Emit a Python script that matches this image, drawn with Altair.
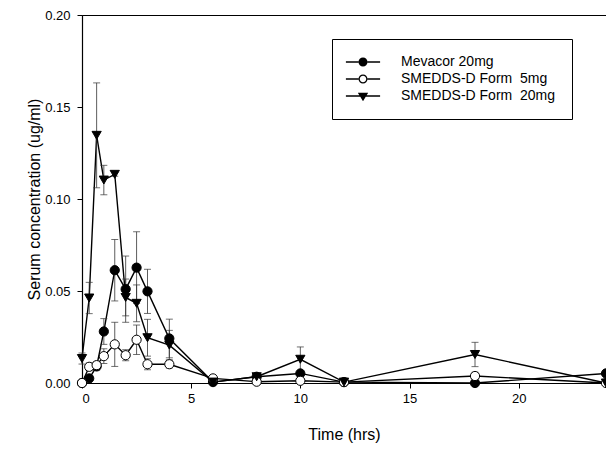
import altair as alt
import pandas as pd

# ---- data ----
times = [0, 0.33, 0.67, 1, 1.5, 2, 2.5, 3, 4, 6, 8, 10, 12, 18, 24]

series_names = ["Mevacor 20mg", "SMEDDS-D Form\u00a0 5mg", "SMEDDS-D Form\u00a0 20mg"]

mevacor = [0.000, 0.0025, 0.009, 0.028, 0.0613, 0.051, 0.0627, 0.0498, 0.0242,
           0.0005, 0.0034, 0.0052, 0.0005, 0.000, 0.0052]
mevacor_err = [0, 0.001, 0.002, 0.007, 0.0167, 0.018, 0.0195, 0.012, 0.0105,
               0, 0, 0, 0, 0, 0]

smedds5 = [0.000, 0.0088, 0.0097, 0.0146, 0.021, 0.0151, 0.0235, 0.0102, 0.0102,
           0.0025, 0.0007, 0.0012, 0.0005, 0.0038, 0.000]
smedds5_err = [0, 0.002, 0.002, 0.004, 0.012, 0.003, 0.008, 0.003, 0.002,
               0, 0, 0, 0, 0.002, 0]

smedds20 = [0.0133, 0.0462, 0.1346, 0.1103, 0.1134, 0.0465, 0.0433, 0.0246, 0.0206,
            0.0005, 0.0034, 0.0129, 0.0005, 0.0155, 0.000]
smedds20_err = [0.003, 0.0085, 0.0285, 0.008, 0.001, 0.010, 0.010, 0.010, 0.008,
                0, 0, 0.0067, 0, 0.0066, 0]

x_ticks = [0, 5, 10, 15, 20]
y_ticks = [0.00, 0.05, 0.10, 0.15, 0.20]

rows = []
for name, vals, errs in zip(series_names,
                            [mevacor, smedds5, smedds20],
                            [mevacor_err, smedds5_err, smedds20_err]):
    for t, v, e in zip(times, vals, errs):
        rows.append({"time": t, "value": v, "err": e, "series": name,
                     "lo": v - e, "hi": v + e})
df = pd.DataFrame(rows)

FONT = "Liberation Sans"

x_enc = alt.X("time:Q",
              scale=alt.Scale(domain=[0, 24], nice=False, zero=False),
              axis=alt.Axis(values=x_ticks, title="Time (hrs)", format="d"))
y_scale = alt.Scale(domain=[0, 0.2], nice=False)
y_axis = alt.Axis(values=y_ticks, format=".2f", title="Serum concentration (ug/ml)")

base = alt.Chart(df)

lines = base.mark_line(color="black", strokeWidth=1.4).encode(
    x=x_enc,
    y=alt.Y("value:Q", scale=y_scale, axis=y_axis),
    detail="series:N",
)

has_err = alt.datum.err > 0
err_rules = base.transform_filter(has_err).mark_rule(
    color="#333333", strokeWidth=0.8).encode(x="time:Q", y="lo:Q", y2="hi:Q")
err_caps_hi = base.transform_filter(has_err).mark_tick(
    orient="horizontal", size=7, thickness=1, color="#333333").encode(
    x="time:Q", y="hi:Q")
err_caps_lo = base.transform_filter(has_err).mark_tick(
    orient="horizontal", size=7, thickness=1, color="#333333").encode(
    x="time:Q", y="lo:Q")

# data markers, one layer per series (constant shape / fill)
marker_styles = [("circle", "black"), ("circle", "white"), ("triangle-down", "black")]
marker_layers = []
for name, (shp, fil) in zip(series_names, marker_styles):
    marker_layers.append(
        base.transform_filter(alt.datum.series == name).mark_point(
            shape=shp, fill=fil, filled=True, size=85, stroke="black",
            strokeWidth=1, opacity=1).encode(x="time:Q", y="value:Q")
    )

# legend symbols: line segment + marker, drawn as filled paths
seg = "M-3.8,-0.16L-1,-0.16L-1,0.16L-3.8,0.16Z M1,-0.16L3.8,-0.16L3.8,0.16L1,0.16Z "
disc = "M1,0A1,1 0 1,1 -1,0A1,1 0 1,1 1,0Z"
ring = ("M1,0A1,1 0 1,1 -1,0A1,1 0 1,1 1,0Z "
        "M0.72,0A0.72,0.72 0 1,0 -0.72,0A0.72,0.72 0 1,0 0.72,0Z")
tri = ("M-3.8,-0.16L3.8,-0.16L3.8,0.16L-3.8,0.16Z "
       "M-1.15,-0.75L1.15,-0.75L0,1.15Z")
legend_paths = [seg + disc, seg + ring, tri]

legend_layer = base.transform_filter("false").mark_point(
    filled=True, color="black", size=81).encode(
    x="time:Q", y="value:Q",
    shape=alt.Shape("series:N",
                    scale=alt.Scale(domain=series_names, range=legend_paths),
                    legend=alt.Legend(
                        title=None, orient="none", legendX=250, legendY=24,
                        strokeColor="black", fillColor="white", padding=16,
                        symbolSize=81, symbolOffset=8, labelOffset=31,
                        labelFontSize=14, labelFont=FONT, labelColor="black",
                        rowPadding=3, symbolFillColor="black",
                        symbolStrokeWidth=0, symbolOpacity=1)),
)

chart = alt.layer(lines, err_rules, err_caps_hi, err_caps_lo, *marker_layers,
                  legend_layer).properties(
    width=524, height=368,
    padding={"left": 74, "top": 7, "right": 0, "bottom": 60},
    autosize=alt.AutoSizeParams(type="none"),
).configure_view(
    stroke="black", strokeWidth=1
).configure_axis(
    grid=False,
    domainColor="black", domainWidth=1.2,
    tickColor="black", tickSize=5, tickWidth=1,
    labelFont=FONT, labelFontSize=13, labelColor="black",
    titleFont=FONT, titleFontSize=16, titleFontWeight="normal", titleColor="black",
).configure_axisY(
    labelPadding=7, titlePadding=2,
).configure_axisX(
    labelPadding=4, titlePadding=21,
)

chart.save("out.html", embed_options={"renderer": "svg", "actions": False})
